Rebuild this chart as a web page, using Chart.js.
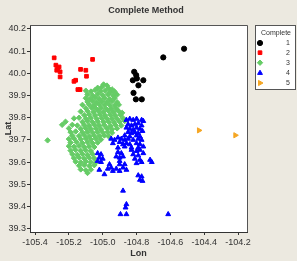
<!DOCTYPE html>
<html>
<head>
<meta charset="utf-8">
<script src="https://cdn.jsdelivr.net/npm/chart.js"></script>
<style>
  html, body { margin: 0; padding: 0; background: #ece9e0; }
  #wrap { width: 297px; height: 274px; }
</style>
</head>
<body>
<div id="wrap"><canvas id="result" width="297" height="274"></canvas></div>
<script>
const chartTitle = 'Complete Method'
const legendTitle = 'Complete'
const groupLabels = ['1', '2', '3', '4', '5']
const xTicks = [-105.4, -105.2, -105.0, -104.8, -104.6, -104.4, -104.2]
const yTicks = [39.3, 39.4, 39.5, 39.6, 39.7, 39.8, 39.9, 40.0, 40.1, 40.2]

// [lon, lat]
const cluster1 = [
  [-104.519, 40.111], [-104.642, 40.072], [-104.814, 40.007], [-104.802, 39.992],
  [-104.822, 39.969], [-104.798, 39.977], [-104.760, 39.969], [-104.789, 39.946],
  [-104.818, 39.912], [-104.804, 39.883], [-104.769, 39.883]
]

const cluster2 = [
  [-105.287, 40.070], [-105.277, 40.037], [-105.267, 40.022], [-105.258, 40.029],
  [-105.272, 40.014], [-105.252, 40.007], [-105.252, 39.984], [-105.060, 40.063],
  [-105.131, 40.018], [-105.100, 40.014], [-105.096, 39.987], [-105.170, 39.964],
  [-105.160, 39.969], [-105.147, 39.927], [-105.134, 39.927]
]

const cluster3 = [
  [-104.995, 39.95], [-104.975, 39.945],
  [-105.03, 39.935], [-105.005, 39.938], [-104.965, 39.932], [-104.945, 39.928],
  [-105.10, 39.922], [-105.07, 39.918], [-105.045, 39.925], [-105.015, 39.92], [-104.985, 39.922], [-104.955, 39.915], [-104.93, 39.918],
  [-105.09, 39.905], [-105.06, 39.9], [-105.03, 39.906], [-105.0, 39.902], [-104.97, 39.905], [-104.94, 39.9], [-104.915, 39.904],
  [-105.1, 39.888], [-105.075, 39.885], [-105.045, 39.89], [-105.02, 39.886], [-104.99, 39.889], [-104.96, 39.884], [-104.93, 39.888],
  [-105.09, 39.872], [-105.06, 39.875], [-105.035, 39.87], [-105.005, 39.874], [-104.975, 39.871], [-104.945, 39.875], [-104.915, 39.87],
  [-105.12, 39.858], [-105.08, 39.86], [-105.05, 39.856], [-105.02, 39.86], [-104.99, 39.857], [-104.96, 39.859], [-104.93, 39.855], [-104.905, 39.858],
  [-105.10, 39.843], [-105.065, 39.845], [-105.04, 39.841], [-105.01, 39.844], [-104.98, 39.84], [-104.95, 39.843], [-104.92, 39.84],
  [-105.13, 39.828], [-105.09, 39.83], [-105.055, 39.826], [-105.025, 39.829], [-104.995, 39.826], [-104.965, 39.83], [-104.935, 39.826], [-104.905, 39.829], [-104.885, 39.822],
  [-105.11, 39.812], [-105.08, 39.815], [-105.045, 39.811], [-105.015, 39.814], [-104.985, 39.81], [-104.955, 39.813], [-104.925, 39.81], [-104.895, 39.812],
  [-105.17, 39.797], [-105.14, 39.8], [-105.10, 39.796], [-105.07, 39.799], [-105.035, 39.795], [-105.005, 39.798], [-104.975, 39.795], [-104.945, 39.797], [-104.915, 39.794], [-104.88, 39.798],
  [-105.22, 39.782], [-105.12, 39.781], [-105.09, 39.784], [-105.06, 39.78], [-105.03, 39.783], [-104.995, 39.78], [-104.965, 39.782], [-104.935, 39.779], [-104.90, 39.782], [-104.87, 39.785],
  [-105.24, 39.768], [-105.18, 39.768], [-105.15, 39.765], [-105.11, 39.767], [-105.08, 39.764], [-105.05, 39.768], [-105.02, 39.765], [-104.99, 39.766], [-104.955, 39.763], [-104.925, 39.767], [-104.89, 39.765],
  [-105.20, 39.752], [-105.13, 39.75], [-105.10, 39.753], [-105.07, 39.749], [-105.04, 39.752], [-105.01, 39.748], [-104.975, 39.751], [-104.945, 39.748], [-104.915, 39.752],
  [-105.19, 39.735], [-105.16, 39.738], [-105.12, 39.734], [-105.09, 39.737], [-105.06, 39.733], [-105.03, 39.736], [-105.0, 39.733], [-104.97, 39.736], [-104.945, 39.732],
  [-105.18, 39.72], [-105.14, 39.718], [-105.11, 39.722], [-105.08, 39.717], [-105.05, 39.72], [-105.02, 39.717], [-104.99, 39.72], [-104.965, 39.716],
  [-105.20, 39.704], [-105.17, 39.707], [-105.13, 39.703], [-105.10, 39.706], [-105.07, 39.702], [-105.04, 39.705], [-105.01, 39.702],
  [-105.326, 39.698],
  [-105.19, 39.688], [-105.155, 39.69], [-105.12, 39.686], [-105.09, 39.689], [-105.06, 39.685], [-105.03, 39.688],
  [-105.20, 39.672], [-105.17, 39.669], [-105.14, 39.673], [-105.11, 39.668], [-105.08, 39.671], [-105.05, 39.668],
  [-105.19, 39.652], [-105.16, 39.655], [-105.13, 39.651], [-105.10, 39.654], [-105.07, 39.65],
  [-105.18, 39.636], [-105.15, 39.633], [-105.12, 39.637], [-105.09, 39.633], [-105.06, 39.636],
  [-105.17, 39.618], [-105.14, 39.621], [-105.11, 39.617], [-105.08, 39.62], [-105.05, 39.617],
  [-105.16, 39.602], [-105.13, 39.599], [-105.10, 39.603], [-105.07, 39.6], [-105.04, 39.598],
  [-105.14, 39.584], [-105.11, 39.587], [-105.08, 39.583], [-105.05, 39.586],
  [-105.13, 39.567], [-105.10, 39.563], [-105.07, 39.566],
  [-105.09, 39.551]
]

const cluster4 = [
  [-104.86, 39.79], [-104.84, 39.795], [-104.82, 39.79], [-104.80, 39.795], [-104.77, 39.79], [-104.76, 39.785],
  [-104.85, 39.77], [-104.83, 39.765], [-104.81, 39.77], [-104.79, 39.775], [-104.77, 39.765],
  [-104.86, 39.755], [-104.84, 39.75], [-104.82, 39.745], [-104.80, 39.755], [-104.78, 39.75],
  [-104.85, 39.735], [-104.83, 39.73], [-104.81, 39.735], [-104.79, 39.73], [-104.765, 39.74],
  [-104.87, 39.72], [-104.84, 39.715], [-104.80, 39.72], [-104.78, 39.715],
  [-104.95, 39.705], [-104.93, 39.70], [-104.91, 39.71], [-104.89, 39.705], [-104.87, 39.70], [-104.85, 39.705], [-104.82, 39.70], [-104.79, 39.705], [-104.77, 39.70],
  [-104.94, 39.685], [-104.90, 39.69], [-104.88, 39.68], [-104.86, 39.685], [-104.84, 39.68], [-104.80, 39.685], [-104.78, 39.68],
  [-104.91, 39.665], [-104.87, 39.67], [-104.83, 39.665], [-104.79, 39.665], [-104.76, 39.67],
  [-105.03, 39.64], [-105.01, 39.635], [-105.02, 39.62], [-105.00, 39.615], [-105.03, 39.605], [-105.01, 39.60],
  [-104.91, 39.645], [-104.89, 39.64], [-104.92, 39.625], [-104.90, 39.62], [-104.88, 39.625], [-104.90, 39.605],
  [-104.83, 39.655], [-104.80, 39.65], [-104.78, 39.655], [-104.82, 39.635], [-104.79, 39.63], [-104.76, 39.64],
  [-104.81, 39.615], [-104.78, 39.61], [-104.80, 39.595], [-104.77, 39.60],
  [-104.72, 39.61], [-104.71, 39.60],
  [-105.02, 39.565], [-104.99, 39.545], [-104.97, 39.57], [-104.95, 39.575], [-104.94, 39.56], [-104.92, 39.57],
  [-104.90, 39.56], [-104.88, 39.575], [-104.86, 39.565], [-104.90, 39.59], [-104.87, 39.59], [-104.96, 39.59],
  [-104.79, 39.54], [-104.77, 39.535], [-104.78, 39.52], [-104.765, 39.515],
  [-104.88, 39.471], [-104.86, 39.41], [-104.865, 39.395], [-104.895, 39.365], [-104.86, 39.365],
  [-104.613, 39.365]
]

const cluster5 = [
  [-104.431, 39.743], [-104.216, 39.721]
]

const clusters = [cluster1, cluster2, cluster3, cluster4, cluster5]
const colors = ['#000000', '#ff0000', '#66cc66', '#0000ff', '#f5a623']
const styles = ['circle', 'rect', 'rectRot', 'triangle', 'triangle']
const rotations = [0, 0, 0, 0, 90]
const radii = [2.6, 2.6, 2.7, 2.8, 3]

const font = 'Liberation Sans'
const textColor = '#333'

const datasets = clusters.map((pts, i) => ({
  label: groupLabels[i],
  data: pts.map(p => ({ x: p[0], y: p[1] })),
  backgroundColor: colors[i],
  borderColor: colors[i],
  borderWidth: 1,
  pointStyle: styles[i],
  pointRotation: rotations[i],
  pointRadius: radii[i],
  pointHoverRadius: radii[i],
  order: i === 3 ? -1 : i
}))

const frame = {
  id: 'frame',
  beforeDraw (chart) {
    const { ctx, chartArea: a } = chart
    ctx.save()
    ctx.fillStyle = '#ece9e0'
    ctx.fillRect(0, 0, chart.width, chart.height)
    ctx.fillStyle = '#ffffff'
    ctx.fillRect(0, 261, chart.width, chart.height - 261)
    ctx.fillRect(a.left, a.top, a.right - a.left, a.bottom - a.top)
    ctx.restore()
  },
  afterDraw (chart) {
    const { ctx, chartArea: a } = chart
    ctx.save()
    ctx.strokeStyle = '#555'
    ctx.lineWidth = 1
    ctx.beginPath()
    ctx.moveTo(a.left, a.top + 0.5)
    ctx.lineTo(a.right + 0.5, a.top + 0.5)
    ctx.lineTo(a.right + 0.5, a.bottom)
    ctx.stroke()

    // title
    ctx.fillStyle = textColor
    ctx.font = 'bold 9px "' + font + '"'
    ctx.textAlign = 'center'
    ctx.textBaseline = 'middle'
    ctx.fillText(chartTitle, 146, 11)

    // legend box
    ctx.fillStyle = '#ffffff'
    ctx.fillRect(255.5, 25.5, 40, 64)
    ctx.strokeStyle = '#555'
    ctx.strokeRect(255.5, 25.5, 40, 64)
    ctx.fillStyle = textColor
    ctx.font = '7px "' + font + '"'
    ctx.textAlign = 'right'
    ctx.fillText(legendTitle, 291, 33)
    const rows = [43, 52.7, 62.7, 73, 83]
    chart.data.datasets.forEach((ds, i) => {
      ctx.fillStyle = ds.backgroundColor
      ctx.strokeStyle = ds.borderColor
      ctx.lineWidth = 1
      Chart.helpers.drawPoint(ctx, {
        pointStyle: ds.pointStyle,
        rotation: ds.pointRotation,
        radius: ds.pointRadius,
        borderWidth: 1
      }, 260, rows[i])
      ctx.fillStyle = textColor
      ctx.fillText(ds.label, 290, rows[i])
    })
    ctx.restore()
  }
}

const tickFont = { family: font, size: 9 }
const axisColor = '#333'

new Chart(document.getElementById('result'), {
  type: 'scatter',
  data: { datasets },
  options: {
    responsive: false,
    animation: false,
    layout: { padding: { top: 25, right: 50, left: 0, bottom: 0 } },
    plugins: {
      legend: { display: false },
      title: { display: false },
      tooltip: { enabled: false }
    },
    scales: {
      x: {
        type: 'linear',
        min: -105.43,
        max: -104.147,
        afterBuildTicks: s => { s.ticks = xTicks.map(v => ({ value: v })) },
        afterFit: s => { s.height = 42 },
        ticks: {
          font: tickFont,
          color: textColor,
          padding: 2,
          maxRotation: 0,
          autoSkip: false,
          callback: v => v.toFixed(1)
        },
        grid: { drawOnChartArea: false, drawTicks: true, tickLength: 3, color: axisColor },
        border: { display: true, color: axisColor },
        title: {
          display: true,
          text: 'Lon',
          color: textColor,
          font: { family: font, size: 9, weight: 'bold' },
          padding: { top: 0, bottom: 15 }
        }
      },
      y: {
        type: 'linear',
        min: 39.285,
        max: 40.218,
        afterBuildTicks: s => { s.ticks = yTicks.map(v => ({ value: v })) },
        afterFit: s => { s.width = 30 },
        ticks: {
          font: tickFont,
          color: textColor,
          padding: 1,
          autoSkip: false,
          callback: v => v.toFixed(1)
        },
        grid: { drawOnChartArea: false, drawTicks: true, tickLength: 3, color: axisColor },
        border: { display: true, color: axisColor },
        title: {
          display: true,
          text: 'Lat',
          color: textColor,
          font: { family: font, size: 9, weight: 'bold' },
          padding: { top: 3, bottom: 0 }
        }
      }
    }
  },
  plugins: [frame]
})
</script>
</body>
</html>
